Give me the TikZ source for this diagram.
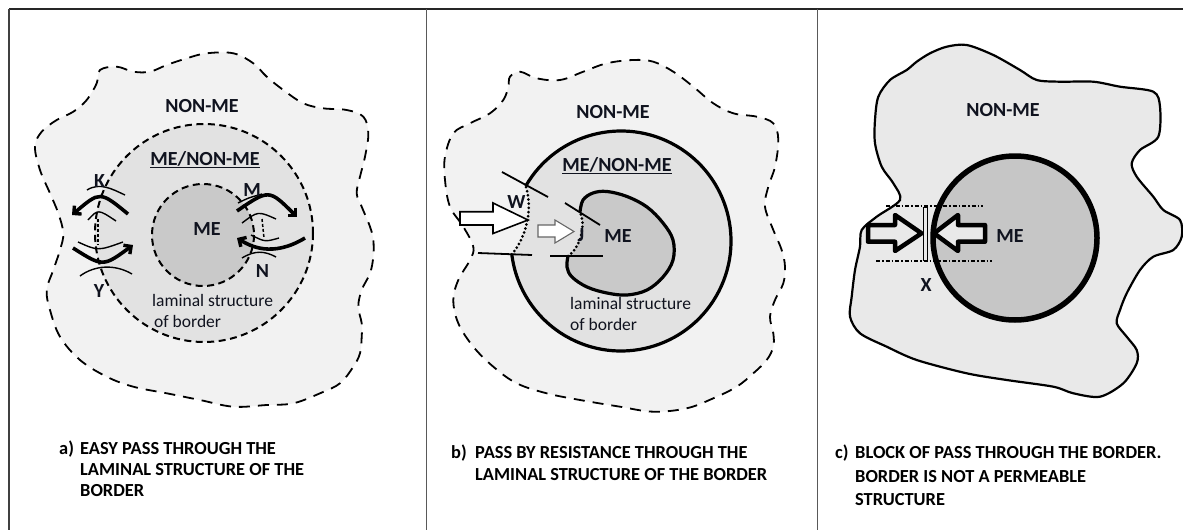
\documentclass[tikz,border=0pt]{standalone}
\usepackage{fontspec}
\setmainfont{Carlito}
\usetikzlibrary{arrows.meta}
\definecolor{outerA}{HTML}{F2F2F2}
\definecolor{midA}{HTML}{E2E2E2}
\definecolor{inA}{HTML}{C9C9C9}
\definecolor{outerC}{HTML}{E9E9E9}
\definecolor{inC}{HTML}{C6C6C6}
\definecolor{txt}{HTML}{10131F}
\begin{document}
\begin{tikzpicture}[x=1pt,y=-1pt,
  lbl/.style={font=\bfseries\fontsize{20}{22}\selectfont, text=txt, inner sep=0, anchor=base},
  lam/.style={font=\fontsize{17.5}{20}\selectfont, text=txt, inner sep=0, anchor=base west},
  captxt/.style={font=\bfseries\fontsize{18.4}{21}\selectfont, inner sep=0, anchor=base west},
  blobdash/.style={line width=1.8pt, dash pattern=on 11pt off 8pt},
  circdash/.style={line width=2pt, dash pattern=on 7pt off 4.5pt},
  bigcurve/.style={line width=3.6pt, -{Straight Barb[length=5.5pt,width=11pt,line width=3.4pt]}},
  thinl/.style={line width=1.4pt},
  slashl/.style={line width=1.8pt},
  dotb/.style={line width=3pt, line cap=round, dash pattern=on 0pt off 4.2pt},
  hollowarrow/.style={line width=1.6pt, fill=white, line join=miter},
  blockarrow/.style={line width=4.5pt, fill=outerC, line join=round},
  dashdotl/.style={line width=1.6pt, dash pattern=on 4pt off 2pt on 1.5pt off 2pt}
]
\useasboundingbox (0,0) rectangle (1183,530);
\fill[white] (0,0) rectangle (1183,530);

% ---------------- frame ----------------
\draw[line width=2.4pt, black!85] (9,9) -- (1183,9);
\draw[line width=1.6pt, black!75] (9,9) -- (9,530);
\draw[line width=1pt, black!65] (426,9) -- (426,530);
\draw[line width=1pt, black!65] (817,9) -- (817,530);

% ---------------- panel a ----------------
\filldraw[fill=outerA, draw=black, blobdash] plot[smooth cycle, tension=0.6] coordinates {
 (100,70) (116.7,66.7) (133.3,71.7) (150,71.7) (166.7,65) (186.7,58.3) (206.7,53.3) (233.3,53.3)
 (253.3,63.3) (266.7,76.7) (283.3,90) (303.3,103.3) (323.3,108.3) (346.7,110) (363.3,116.7)
 (368.3,133.3) (365,156.7) (360,176.7) (356.7,193.3) (361.7,206.7) (370,226.7) (373.3,240)
 (373.3,256.7) (370,273.3) (361.7,290) (358.3,306.7) (361.7,323.3) (361.7,336.7) (360,353.3)
 (353.3,366.7) (340,383.3) (320,393.3) (293.3,403.3) (266.7,405) (233.3,406.7) (200,400)
 (166.7,393.3) (133.3,386.7) (106.7,376.7) (80,360) (60,336.7) (50,310) (46.7,290) (53.3,270)
 (60,250) (63.3,233.3) (58.3,213.3) (50,193.3) (40,170) (35,146.7) (41.7,131.7) (56.7,120)
 (73.3,111.7) (86.7,100) (96.7,83.3)};
\filldraw[fill=midA, draw=black, circdash] (204,233) circle[radius=109];
\filldraw[fill=inA, draw=black, circdash] (203,235) circle[radius=51];

% arrows a
\coordinate (a1s) at (128,214); \coordinate (a1e) at (72,215);
\coordinate (a2s) at (73,248);  \coordinate (a2e) at (133,245);
\coordinate (a3s) at (237,211); \coordinate (a3e) at (297,217);
\coordinate (a4s) at (305,238); \coordinate (a4e) at (237,238);
\draw[bigcurve] (a1s) .. controls (100,191) .. (a1e);
\draw[bigcurve] (a2s) .. controls (103,267) .. (a2e);
\draw[bigcurve] (a3s) .. controls (269,189) .. (a3e);
\draw[bigcurve] (a4s) .. controls (272,258) and (250,246) .. (a4e);
% thin lines a
\draw[thinl] (87,190) .. controls (100,182) and (112,189) .. (125,195);
\draw[thinl] (88,220) .. controls (98,209) .. (116,221);
\draw[dash pattern=on 3pt off 2pt, line width=1.5pt] (98,219) -- (98,245);
\draw[thinl] (78,242) .. controls (98,251) .. (123,242);
\draw[thinl] (80,276) .. controls (95,265) and (115,264) .. (132,274);
\draw[thinl] (238,203) .. controls (248,198) .. (262,194);
\draw[thinl] (242,223) .. controls (258,211) .. (276,219);
\draw[dash pattern=on 3pt off 2pt, line width=1.5pt] (262,219) -- (264,238);
\draw[thinl] (251,235) .. controls (265,242) .. (279,238);
\draw[thinl] (242,258) .. controls (255,250) and (265,251) .. (276,257);

% labels a
\node[lbl] (aNonMe) at (202,112) {NON-ME};
\node[lbl] (aMid) at (205,165) {\underline{ME/NON-ME}};
\node[lbl] (aMe) at (207,235) {ME};
\node[lam] (aLam1) at (152,306) {laminal structure};
\node[lam] (aLam2) at (154,327) {of border};
\node[lbl] (aK) at (99.5,187) {K};
\node[lbl] (aM) at (252,196) {M};
\node[lbl] (aN) at (262.5,277) {N};
\node[lbl] (aY) at (99,297) {Y};

% ---------------- panel b ----------------
\filldraw[fill=outerA, draw=black, blobdash] plot[smooth cycle, tension=0.6] coordinates {
 (510,76.7) (520,71.7) (536.7,78.3) (560,80) (583.3,71.7) (606.7,63.3) (633.3,60) (653.3,61.7)
 (673.3,71.7) (693.3,86.7) (713.3,103.3) (733.3,113.3) (756.7,116.7) (773.3,123.3) (778.3,140)
 (775,166.7) (768.3,186.7) (765,206.7) (773.3,230) (781.7,250) (785,266.7) (783.3,283.3)
 (775,300) (770,316.7) (773.3,333.3) (773.3,346.7) (766.7,360) (753.3,373.3) (736.7,386.7)
 (713.3,398.3) (686.7,408.3) (653.3,411.7) (620,406.7) (580,400) (546.7,393.3) (516.7,383.3)
 (493.3,366.7) (473.3,346.7) (458.3,323.3) (453.3,300) (458.3,280) (470,260) (473.3,246.7)
 (463.3,226.7) (450,206.7) (445,180) (445,156.7) (453.3,133.3) (470,123.3) (490,113.3)
 (503.3,100) (508.3,86.7)};
% middle ring with gap
\coordinate (bWt) at ([shift={(621,241)}]-150:110);
\coordinate (bWb) at ([shift={(621,241)}]173:110);
\fill[midA] (bWt) arc[start angle=-150, end angle=173, radius=110]
   .. controls (524,240) and (534,212) .. (bWt);
\draw[line width=3.2pt] (bWt) arc[start angle=-150, end angle=173, radius=110];
\draw[dotb] (bWb) .. controls (524,240) and (534,212) .. (bWt);
% inner kidney
\coordinate (bJt) at (580,212);
\coordinate (bJb) at (568,256);
\fill[inA] plot[smooth, tension=0.6] coordinates {(580,212) (583,200) (593,193) (607,191.5) (627,196.5)
  (647,207) (663,223) (673,240) (673,260) (663,277) (647,290) (627,295) (607,293) (587,287)
  (572,277) (567,267) (568,256)} .. controls (578,250) and (587,228) .. (580,212);
\draw[line width=3.2pt] plot[smooth, tension=0.6] coordinates {(580,212) (583,200) (593,193) (607,191.5) (627,196.5)
  (647,207) (663,223) (673,240) (673,260) (663,277) (647,290) (627,295) (607,293) (587,287)
  (572,277) (567,267) (568,256)};
\draw[dotb] (bJb) .. controls (578,250) and (587,228) .. (bJt);
% slash lines
\draw[slashl] (502,172) -- (548,197);
\draw[slashl] (565,203) -- (600,225);
\draw[slashl] (478,253) -- (532,255);
\draw[slashl] (550,256) -- (603,256);
% hollow arrows
\draw[hollowarrow] (460,211.7) -- (493,211.7) -- (493,203) -- (528,220) -- (493,233.5) -- (493,225) -- (460,225) -- cycle;
\draw[line width=1.1pt, draw=black!60, fill=white] (538,225) -- (555,225) -- (555,220) -- (574,231.5) -- (555,243) -- (555,237) -- (538,237) -- cycle;

% labels b
\node[lbl] (bNonMe) at (613,118) {NON-ME};
\node[lbl] (bMid) at (617,171) {\underline{ME/NON-ME}};
\node[lbl] (bW) at (516.5,208) {W};
\node[lbl] (bJ) at (581,241.5) {J};
\node[lbl] (bMe) at (618,242.5) {ME};
\node[lam] (bLam1) at (570,309) {laminal structure};
\node[lam] (bLam2) at (570,330) {of border};

% ---------------- panel c ----------------
\filldraw[fill=outerC, draw=black, line width=2.2pt] plot[smooth cycle, tension=0.5] coordinates {
 (916.7,61.7) (930,53.3) (946.7,46.7) (966.7,45) (993.3,55) (1020,70) (1036.7,80) (1060,81.7)
 (1093.3,81.7) (1120,86.7) (1153.3,91.7) (1160,106.7) (1158.3,136.7) (1140,150) (1131.7,163.3)
 (1136.7,176.7) (1153.3,196.7) (1163.3,210) (1180,220) (1181.7,236.7) (1173.3,250) (1153.3,256.7)
 (1140,270) (1126.7,293.3) (1120,310) (1116.7,323.3) (1126.7,336.7) (1136.7,350) (1136.7,363.3)
 (1123.3,383.3) (1100,396.7) (1073.3,393.3) (1053.3,386.7) (1006.7,380) (966.7,373.3) (916.7,360)
 (886.7,346.7) (860,333.3) (850,316.7) (851.7,296.7) (855,270) (860,246.7) (861.7,230)
 (876.7,216.7) (900,200) (893.3,183.3) (881.7,166.7) (875,143.3) (875,120) (878.3,96.7)
 (890,80) (906.7,70)};
\filldraw[fill=inC, draw=black, line width=5.5pt] (1015,238) circle[radius=82];
\draw[dashdotl] (886,206) -- (983,206);
\draw[dashdotl] (876,261) -- (992,261);
\draw[line width=0.9pt] (922.5,207) -- (928,207) (922.5,260) -- (928,260) (923.5,207) -- (923.5,260) (927,207) -- (927,260);
\draw[blockarrow] (868,225) -- (895,225) -- (895,215) -- (921.5,233.3) -- (895,251) -- (895,241.7) -- (868,241.7) -- cycle;
\draw[blockarrow] (985,225) -- (958,225) -- (958,215) -- (934,233.3) -- (958,251) -- (958,241.7) -- (985,241.7) -- cycle;

% labels c
\node[lbl] (cNonMe) at (1003,116) {NON-ME};
\node[lbl] (cMe) at (1010,242.5) {ME};
\node[lbl] (cX) at (926,291.5) {X};

% ---------------- captions ----------------
\node[captxt] (capA0) at (59,454) {a)};
\node[captxt] (capA1) at (80,454) {EASY PASS THROUGH THE};
\node[captxt] (capA2) at (80,475) {LAMINAL STRUCTURE OF THE};
\node[captxt] (capA3) at (80,496) {BORDER};
\node[captxt] (capB0) at (451,458) {b)};
\node[captxt] (capB1) at (475,458) {PASS BY RESISTANCE THROUGH THE};
\node[captxt] (capB2) at (475,480) {LAMINAL STRUCTURE OF THE BORDER};
\node[captxt] (capC0) at (835,458) {c)};
\node[captxt] (capC1) at (855,458) {BLOCK OF PASS THROUGH THE BORDER.};
\node[captxt] (capC2) at (855,482) {BORDER IS NOT A PERMEABLE};
\node[captxt] (capC3) at (855,505) {STRUCTURE};
\end{tikzpicture}
\end{document}
